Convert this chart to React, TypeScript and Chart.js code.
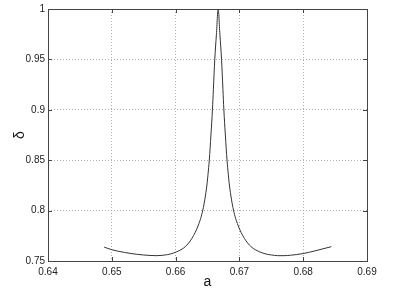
import React, { useEffect, useRef } from "react";
import { Chart, registerables } from "chart.js";

Chart.register(...registerables);

const aValues = [
  0.6488, 0.650, 0.652, 0.654, 0.656, 0.65707, 0.65837, 0.65915, 0.66020, 0.66151, 0.66256, 0.66357,
  0.66427, 0.66491, 0.66508, 0.66528, 0.66554, 0.66578, 0.66592, 0.66614, 0.6664, 0.66667,
  0.66694, 0.6672, 0.66742, 0.66756, 0.6678, 0.66806, 0.66826, 0.66843, 0.66907, 0.66977,
  0.67078, 0.67183, 0.67314, 0.67419, 0.675, 0.676, 0.677, 0.678, 0.680, 0.682, 0.6844,
];
const deltaValues = [
  0.7638, 0.7612, 0.7585, 0.7566, 0.7555, 0.7553, 0.7560, 0.7569, 0.7592, 0.7642, 0.7725, 0.7857,
  0.8006, 0.8254, 0.8360, 0.8500, 0.8750, 0.9005, 0.9200, 0.9500, 0.9750, 1.0000,
  0.9750, 0.9500, 0.9200, 0.9005, 0.8750, 0.8500, 0.8360, 0.8254, 0.8006, 0.7857,
  0.7725, 0.7642, 0.7592, 0.7569, 0.7560, 0.7553, 0.7553, 0.7557, 0.7574, 0.7603, 0.7642,
];
const xRange = [0.64, 0.69];
const yRange = [0.75, 1.0];
const xStep = 0.01;
const yStep = 0.05;
const xTitle = "a";
const yTitle = "δ";

const fmt = (v: number) => String(Number(Number(v).toFixed(4)));

const framePlugin = {
  id: "frame",
  afterDraw(chart: any) {
    const { ctx, chartArea: ca, scales } = chart;
    ctx.save();
    ctx.strokeStyle = "#444";
    ctx.lineWidth = 1;
    const tl = 4;
    ctx.beginPath();
    scales.x.ticks.forEach((t: any) => {
      const px = Math.round(scales.x.getPixelForValue(t.value)) + 0.5;
      ctx.moveTo(px, ca.bottom);
      ctx.lineTo(px, ca.bottom - tl);
      ctx.moveTo(px, ca.top);
      ctx.lineTo(px, ca.top + tl);
    });
    scales.y.ticks.forEach((t: any) => {
      const py = Math.round(scales.y.getPixelForValue(t.value)) + 0.5;
      ctx.moveTo(ca.left, py);
      ctx.lineTo(ca.left + tl, py);
      ctx.moveTo(ca.right, py);
      ctx.lineTo(ca.right - tl, py);
    });
    ctx.stroke();
    ctx.strokeRect(Math.round(ca.left) + 0.5, Math.round(ca.top) + 0.5, Math.round(ca.right - ca.left), Math.round(ca.bottom - ca.top));
    ctx.restore();
  },
};

export default function App() {
  const ref = useRef<HTMLCanvasElement>(null);
  useEffect(() => {
    document.body.style.margin = "0";
    const chart = new Chart(ref.current!, {
      type: "line",
      data: {
        datasets: [
          {
            data: aValues.map((a, i) => ({ x: a, y: deltaValues[i] })),
            borderColor: "#333",
            borderWidth: 1,
            pointRadius: 0,
            fill: false,
            cubicInterpolationMode: "monotone",
          },
        ],
      },
      options: {
        responsive: false,
        animation: false,
        layout: { padding: { left: 0, right: 42, top: 9, bottom: 0 } },
        plugins: { legend: { display: false }, tooltip: { enabled: false } },
        scales: {
          x: {
            type: "linear",
            min: xRange[0],
            max: xRange[1],
            ticks: {
              stepSize: xStep,
              callback: (v: any) => fmt(v),
              font: { family: "Liberation Sans", size: 10 },
              color: "#222",
              padding: 5,
              maxRotation: 0,
              autoSkip: false,
            },
            grid: { color: "#b0b0b0", drawTicks: false, lineWidth: 1 },
            border: { display: false, dash: [1, 2] } as any,
            title: {
              display: true,
              text: xTitle,
              font: { family: "Liberation Sans", size: 14 },
              color: "#111",
              padding: { top: 0, bottom: 0 },
            },
            afterFit: (s: any) => {
              s.height = 30;
            },
          },
          y: {
            type: "linear",
            min: yRange[0],
            max: yRange[1],
            ticks: {
              stepSize: yStep,
              callback: (v: any) => fmt(v),
              font: { family: "Liberation Sans", size: 10 },
              color: "#222",
              padding: 3,
              autoSkip: false,
            },
            grid: { color: "#b0b0b0", drawTicks: false, lineWidth: 1 },
            border: { display: false, dash: [1, 2] } as any,
            title: {
              display: true,
              text: yTitle,
              font: { family: "Liberation Sans", size: 14 },
              color: "#111",
              padding: { top: 12, bottom: 0 },
            },
            afterFit: (s: any) => {
              s.width = 48;
            },
          },
        },
      },
      plugins: [framePlugin],
    });
    return () => chart.destroy();
  }, []);
  return (
    <div style={{ position: "fixed", left: 0, top: 0, width: 409, height: 291, background: "#fff" }}>
      <canvas ref={ref} width={409} height={291} />
    </div>
  );
}
